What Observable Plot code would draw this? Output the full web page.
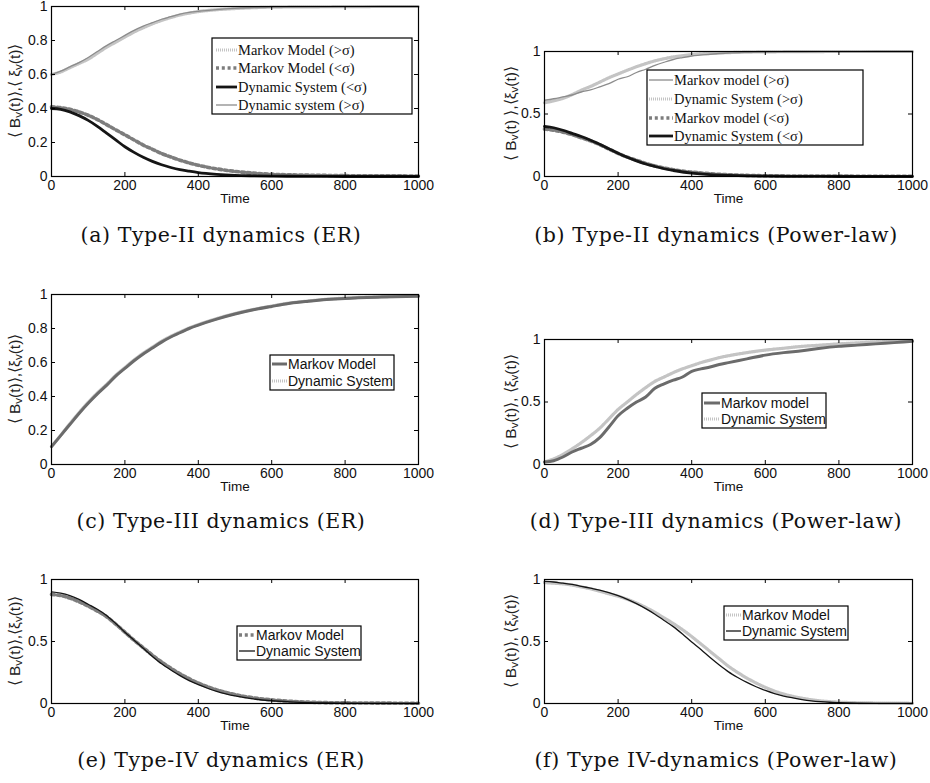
<!DOCTYPE html>
<html><head><meta charset="utf-8">
<script src="https://cdn.jsdelivr.net/npm/d3@7"></script>
<script src="https://cdn.jsdelivr.net/npm/@observablehq/plot@0.6"></script>
<style>
body{margin:0;background:#fff;}
#fig{position:relative;width:930px;height:783px;overflow:hidden;background:#fff;}
.panel{position:absolute;}
#overlay{position:absolute;left:0;top:0;pointer-events:none;}
</style></head><body><div id="fig"></div><script>
// ---------- data ----------
const xTicks = [0, 200, 400, 600, 800, 1000];
const yTicksFine = [0, 0.2, 0.4, 0.6, 0.8, 1];
const yTicksCoarse = [0, 0.5, 1];

const timeA = [0,25,50,75,100,125,150,175,200,225,250,275,300,325,350,375,400,450,500,550,600,700,800,900,1000];
const aMarkovHi = [0.60,0.615,0.64,0.665,0.69,0.725,0.76,0.79,0.82,0.85,0.875,0.898,0.918,0.935,0.95,0.961,0.97,0.981,0.988,0.993,0.996,0.998,0.999,1,1];
const aMarkovLo = [0.41,0.405,0.395,0.38,0.36,0.335,0.305,0.275,0.245,0.215,0.185,0.16,0.135,0.115,0.096,0.08,0.066,0.045,0.03,0.02,0.013,0.008,0.005,0.004,0.003];
const aDynLo = [0.40,0.395,0.38,0.358,0.33,0.295,0.255,0.215,0.175,0.142,0.113,0.089,0.069,0.053,0.04,0.031,0.023,0.013,0.007,0.004,0.002,0.001,0,0,0];
const aDynHi = [0.60,0.62,0.645,0.67,0.70,0.735,0.77,0.80,0.83,0.86,0.885,0.905,0.925,0.94,0.955,0.965,0.972,0.982,0.989,0.994,0.996,0.998,0.999,1,1];

const timeB = [0,25,50,75,100,125,150,175,200,225,250,275,300,325,350,375,400,450,500,550,600,700,800,900,1000];
const bMarkovHi = [0.61,0.622,0.637,0.652,0.676,0.693,0.717,0.743,0.778,0.798,0.832,0.858,0.889,0.914,0.936,0.951,0.964,0.978,0.988,0.993,0.996,0.998,0.999,1,1];
const bDynHi = [0.59,0.605,0.625,0.655,0.69,0.72,0.755,0.79,0.82,0.85,0.878,0.903,0.925,0.942,0.956,0.966,0.975,0.985,0.991,0.995,0.997,0.999,1,1,1];
const bMarkovLo = [0.38,0.37,0.355,0.335,0.31,0.285,0.255,0.22,0.185,0.155,0.13,0.105,0.085,0.068,0.054,0.043,0.035,0.022,0.014,0.009,0.006,0.004,0.003,0.002,0.002];
const bDynLo = [0.40,0.39,0.37,0.345,0.32,0.29,0.258,0.222,0.186,0.154,0.125,0.1,0.08,0.062,0.048,0.036,0.027,0.015,0.009,0.005,0.003,0.001,0,0,0];

const timeC = [0,25,50,75,100,125,150,175,200,225,250,275,300,325,350,375,400,450,500,550,600,650,700,750,800,900,1000];
const cMarkov = [0.105,0.17,0.235,0.30,0.36,0.415,0.465,0.52,0.565,0.61,0.65,0.685,0.72,0.75,0.775,0.80,0.82,0.855,0.885,0.91,0.93,0.948,0.96,0.97,0.977,0.985,0.99];
const cDyn = [0.105,0.172,0.24,0.305,0.366,0.421,0.471,0.525,0.57,0.615,0.655,0.69,0.725,0.754,0.779,0.803,0.823,0.858,0.888,0.912,0.932,0.95,0.962,0.972,0.979,0.987,0.992];

const timeD = [0,25,50,75,100,125,150,175,200,225,250,275,300,325,350,375,400,425,450,475,500,550,600,650,700,750,800,850,900,950,1000];
const dMarkov = [0.02,0.03,0.06,0.10,0.13,0.16,0.215,0.30,0.39,0.45,0.50,0.54,0.61,0.645,0.675,0.70,0.745,0.765,0.78,0.80,0.815,0.845,0.875,0.895,0.91,0.93,0.945,0.955,0.965,0.975,0.985];
const dDyn = [0.02,0.045,0.08,0.125,0.175,0.23,0.29,0.365,0.44,0.50,0.56,0.615,0.665,0.70,0.735,0.765,0.79,0.815,0.835,0.855,0.87,0.895,0.915,0.93,0.945,0.955,0.965,0.973,0.98,0.986,0.99];

const timeE = [0,25,50,75,100,125,150,175,200,225,250,275,300,325,350,375,400,425,450,475,500,550,600,650,700,750,800,900,1000];
const eMarkov = [0.88,0.87,0.85,0.82,0.785,0.745,0.70,0.64,0.575,0.51,0.45,0.39,0.335,0.285,0.24,0.2,0.165,0.135,0.11,0.09,0.072,0.046,0.029,0.018,0.011,0.007,0.005,0.003,0.002];
const eDyn = [0.90,0.89,0.87,0.84,0.80,0.76,0.71,0.645,0.575,0.51,0.445,0.38,0.32,0.27,0.225,0.185,0.152,0.123,0.098,0.078,0.061,0.037,0.022,0.013,0.007,0.004,0.002,0.001,0];

const timeF = [0,25,50,75,100,125,150,175,200,225,250,275,300,325,350,375,400,425,450,475,500,525,550,575,600,625,650,675,700,725,750,775,800,850,900,950,1000];
const fMarkov = [0.975,0.97,0.965,0.955,0.94,0.925,0.905,0.885,0.865,0.84,0.81,0.775,0.735,0.69,0.645,0.595,0.54,0.48,0.42,0.36,0.30,0.25,0.205,0.165,0.13,0.1,0.076,0.057,0.042,0.03,0.021,0.015,0.011,0.006,0.004,0.003,0.002];
const fDyn = [0.985,0.98,0.97,0.96,0.945,0.93,0.915,0.895,0.87,0.84,0.805,0.765,0.72,0.67,0.62,0.56,0.495,0.435,0.37,0.31,0.255,0.21,0.17,0.135,0.105,0.08,0.06,0.045,0.032,0.022,0.015,0.01,0.007,0.003,0.001,0.0005,0];

const captions = [
  "(a) Type-II dynamics (ER)", "(b) Type-II dynamics (Power-law)",
  "(c) Type-III dynamics (ER)", "(d) Type-III dynamics (Power-law)",
  "(e) Type-IV dynamics (ER)", "(f) Type IV-dynamics (Power-law)"
];

// ---------- styles ----------
const ST = {
  lightDot:  {stroke: "#c4c4c4", strokeWidth: 3.2, strokeDasharray: "1,1"},
  darkDot:   {stroke: "#7d7d7d", strokeWidth: 3.6, strokeDasharray: "3,2.8"},
  blackThick:{stroke: "#151515", strokeWidth: 2.8},
  grayThin:  {stroke: "#8c8c8c", strokeWidth: 1.3},
  grayThick: {stroke: "#6b6b6b", strokeWidth: 3},
  blackThin: {stroke: "#151515", strokeWidth: 1.3}
};

const rows = (time, vals) => time.map((t, i) => ({t, v: vals[i]}));

const panels = [
  {left: 0, top: 0, frameW: 367, frameH: 170, yTicks: yTicksFine, ylx: 14,
   ylab: ["⟨ B", "v", "(t)⟩,⟨ ξ", "v", "(t)⟩"],
   series: [[timeA, aMarkovHi, "lightDot"], [timeA, aMarkovLo, "darkDot"], [timeA, aDynLo, "blackThick"], [timeA, aDynHi, "grayThin"]],
   legend: {x: 212, y: 38, w: 200, h: 76, rowY: [50, 68, 87, 105], sx: [216, 237], tx: 238, serif: true,
     items: [["Markov Model (>σ)", "lightDot"], ["Markov Model (<σ)", "darkDot"], ["Dynamic System (<σ)", "blackThick"], ["Dynamic system (>σ)", "grayThin"]]}},
  {left: 493, top: 45, frameW: 368, frameH: 125, yTicks: yTicksCoarse, ylx: 17,
   ylab: ["⟨ B", "v", "(t) ⟩,⟨ξ", "v", "(t)⟩"],
   series: [[timeB, bDynHi, "lightDot"], [timeB, bMarkovHi, "grayThin"], [timeB, bMarkovLo, "darkDot"], [timeB, bDynLo, "blackThick"]],
   legend: {x: 647, y: 70, w: 216, h: 75, rowY: [80, 99, 118, 136], sx: [649, 673], tx: 674, serif: true,
     items: [["Markov model (>σ)", "grayThin"], ["Dynamic System (>σ)", "lightDot"], ["Markov model (<σ)", "darkDot"], ["Dynamic System (<σ)", "blackThick"]]}},
  {left: 0, top: 288, frameW: 367, frameH: 170, yTicks: yTicksFine, ylx: 14,
   ylab: ["⟨ B", "v", "(t)⟩,⟨ξ", "v", "(t)⟩"],
   series: [[timeC, cDyn, "lightDot"], [timeC, cMarkov, "grayThick"]],
   legend: {x: 270, y: 355, w: 124, h: 35, rowY: [364, 381], sx: [272, 287], tx: 288, serif: false,
     items: [["Markov Model", "grayThick"], ["Dynamic System", "lightDot"]]}},
  {left: 493, top: 333, frameW: 368, frameH: 125, yTicks: yTicksCoarse, ylx: 17,
   ylab: ["⟨ B", "v", "(t)⟩, ⟨ξ", "v", "(t)⟩"],
   series: [[timeD, dDyn, "lightDot"], [timeD, dMarkov, "grayThick"]],
   legend: {x: 702, y: 393, w: 124, h: 35, rowY: [403, 419], sx: [704, 720], tx: 721, serif: false,
     items: [["Markov model", "grayThick"], ["Dynamic System", "lightDot"]]}},
  {left: 0, top: 573, frameW: 367, frameH: 124, yTicks: yTicksCoarse, ylx: 14,
   ylab: ["⟨ B", "v", "(t)⟩,⟨ξ", "v", "(t)⟩"],
   series: [[timeE, eMarkov, "darkDot"], [timeE, eDyn, "blackThin"]],
   legend: {x: 237, y: 626, w: 124, h: 34, rowY: [635, 651], sx: [239, 255], tx: 256, serif: false,
     items: [["Markov Model", "darkDot"], ["Dynamic System", "blackThin"]]}},
  {left: 493, top: 573, frameW: 368, frameH: 124, yTicks: yTicksCoarse, ylx: 17,
   ylab: ["⟨ B", "v", "(t)⟩, ⟨ξ", "v", "(t)⟩"],
   series: [[timeF, fMarkov, "lightDot"], [timeF, fDyn, "blackThin"]],
   legend: {x: 724, y: 606, w: 124, h: 34, rowY: [615, 631], sx: [726, 741], tx: 742, serif: false,
     items: [["Markov Model", "lightDot"], ["Dynamic System", "blackThin"]]}}
];

const captionPos = [[221, 242], [716, 242], [221, 528], [716, 528], [221, 767], [716, 767]];

const fig = document.getElementById("fig");
const mL = 51, mT = 6, mR = 24, mB = 34;

panels.forEach(p => {
  const W = mL + p.frameW + mR, H = mT + p.frameH + mB;
  const marks = p.series.map(([time, vals, st]) =>
    Plot.line(rows(time, vals), {x: "t", y: "v", curve: "monotone-x", ...ST[st]}));
  marks.push(
    Plot.frame({stroke: "#000", strokeWidth: 1.2}),
    Plot.tickX(xTicks, {x: d => d, insetTop: p.frameH - 4, stroke: "#000"}),
    Plot.tickX(xTicks, {x: d => d, insetBottom: p.frameH - 4, stroke: "#000"}),
    Plot.tickY(p.yTicks, {y: d => d, insetRight: p.frameW - 4, stroke: "#000"}),
    Plot.tickY(p.yTicks, {y: d => d, insetLeft: p.frameW - 4, stroke: "#000"}),
    Plot.text(["Time"], {text: d => d, frameAnchor: "bottom", dy: 22, fontSize: 13.5, lineAnchor: "middle", fill: "#111"})
  );
  const svg = Plot.plot({
    width: W, height: H, marginLeft: mL, marginTop: mT, marginRight: mR, marginBottom: mB,
    x: {domain: [0, 1000], ticks: xTicks, tickSize: 0, tickPadding: 4, tickFormat: d => String(d), label: null},
    y: {domain: [0, 1], ticks: p.yTicks, tickSize: 0, tickPadding: 4, tickFormat: d => String(d), label: null},
    style: {fontFamily: "'Liberation Sans', Arial, sans-serif", fontSize: "14px", color: "#111", background: "transparent", overflow: "visible", maxWidth: "none"},
    marks
  });
  // y label with subscripts
  const t = d3.select(svg).append("text")
    .attr("transform", `translate(${p.ylx},${mT + p.frameH / 2}) rotate(-90)`)
    .attr("text-anchor", "middle").attr("dominant-baseline", "central")
    .attr("font-size", 15.5).attr("fill", "#222");
  p.ylab.forEach((s, i) => {
    const sub = i % 2 === 1;
    t.append("tspan").text(s)
      .attr("font-size", sub ? 11.5 : 15.5)
      .attr("dy", sub ? "0.35em" : (i > 0 ? "-0.26em" : null));
  });
  const div = document.createElement("div");
  div.className = "panel";
  div.style.left = p.left + "px"; div.style.top = p.top + "px";
  div.style.width = W + "px"; div.style.height = H + "px";
  div.appendChild(svg);
  fig.appendChild(div);
});

// overlay: legends and captions
const ov = d3.select(fig).append("svg").attr("id", "overlay").attr("width", 930).attr("height", 783);
panels.forEach(p => {
  const L = p.legend;
  ov.append("rect").attr("x", L.x).attr("y", L.y).attr("width", L.w).attr("height", L.h)
    .attr("fill", "#fff").attr("stroke", "#000").attr("stroke-width", 1.2);
  L.items.forEach(([label, st], i) => {
    const s = ST[st];
    ov.append("line").attr("x1", L.sx[0]).attr("x2", L.sx[1]).attr("y1", L.rowY[i]).attr("y2", L.rowY[i])
      .attr("stroke", s.stroke).attr("stroke-width", s.strokeWidth).attr("stroke-dasharray", s.strokeDasharray || null);
    ov.append("text").attr("x", L.tx).attr("y", L.rowY[i]).attr("dominant-baseline", "central")
      .attr("font-family", L.serif ? "'Liberation Serif', 'Times New Roman', serif" : "'Liberation Sans', Arial, sans-serif")
      .attr("font-size", L.serif ? 14.5 : 14).attr("fill", "#111").text(label);
  });
});
captions.forEach((c, i) => {
  ov.append("text").attr("x", captionPos[i][0]).attr("y", captionPos[i][1])
    .attr("text-anchor", "middle").attr("font-family", "'DejaVu Serif', serif")
    .attr("font-size", 20.5).attr("letter-spacing", "0.6px").attr("fill", "#111").text(c);
});
</script></body></html>
